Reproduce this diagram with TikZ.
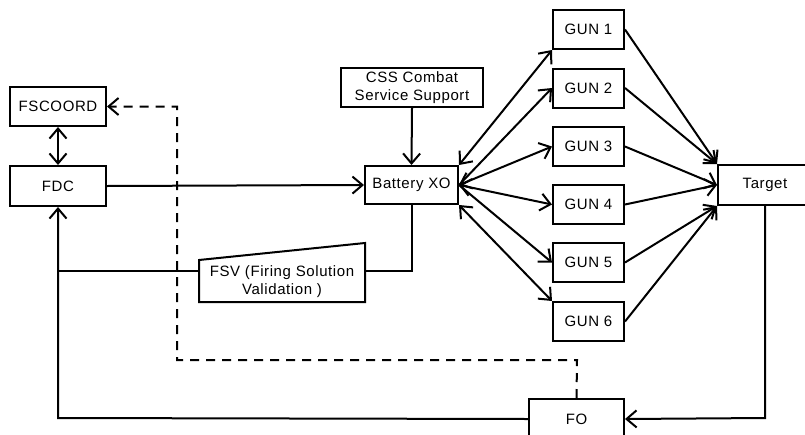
\documentclass[tikz,border=0pt]{standalone}
\usepackage{fontspec}
\setmainfont{Liberation Sans}[LetterSpace=4]
\usetikzlibrary{arrows.meta}
\begin{document}
\begin{tikzpicture}[x=1pt,y=-1pt,
  every node/.style={font=\fontsize{15}{18}\selectfont},
  box/.style={draw,line width=2pt,minimum width=#1,minimum height=39pt,inner sep=0pt,align=center},
  gunbox/.style={box=71pt},
  conn/.style={line width=2pt},
  >={Straight Barb[length=10pt,width=17pt,line width=2pt]},
  dashln/.style={conn,dash pattern=on 9pt off 7pt}]
\useasboundingbox (0,0) rectangle (805,434);
\fill[white] (0,0) rectangle (805,434);
% nodes
\node[box=96pt] (fscoord) at (58,106.5) {FSCOORD};
\node[box=96pt,minimum height=40pt] (fdc) at (58,186) {FDC};
\node[box=142pt] (css) at (412,87.5) {CSS Combat\\Service Support};
\node[box=93pt,minimum height=38pt] (bxo) at (411.5,185) {Battery XO};
\draw[line width=2pt] (199,260) -- (365,243) -- (365,302) -- (199,302) -- cycle;
\node[align=center,inner sep=0pt] (fsv) at (282,282) {FSV (Firing Solution\\Validation )};
\coordinate (fsvL) at (199,271);
\coordinate (fsvR) at (365,271);
\node[gunbox] (g1) at (588.5,29.5) {GUN 1};
\node[gunbox] (g2) at (588.5,88) {GUN 2};
\node[gunbox] (g3) at (588.5,146.5) {GUN 3};
\node[gunbox] (g4) at (588.5,204.5) {GUN 4};
\node[gunbox] (g5) at (588.5,262.5) {GUN 5};
\node[gunbox] (g6) at (588.5,321.5) {GUN 6};
\node[box=94pt,minimum height=40pt] (target) at (765,185) {Target};
\node[box=95pt,minimum height=40pt] (fo) at (576.5,419) {FO};
% connectors
\draw[conn,<->] (fscoord) -- (fdc);
\draw[conn,->] (fdc.east) -- (bxo.west);
\draw[conn,->] (css.south) -- (bxo.north);
\draw[conn] (bxo.south) -- (411.5,271) -- (fsvR);
\draw[conn] (fsvL) -- (58,271);
\draw[conn,->] (fo.west) -- (58,418) -- (fdc.south);
\draw[conn,->] (target.south) -- (765,418) -- (fo.east);
\draw[dashln,->] (fo.north) -- (577,360) -- (177,360) -- (177,106.5) -- (fscoord.east);
\draw[conn,<->] (bxo.north east) -- (g1.south west);
\draw[conn,->] (bxo.east) -- (g2.west);
\draw[conn,<->] (bxo.east) -- (g3.west);
\draw[conn,<->] (bxo.east) -- (g4.west);
\draw[conn,->] (bxo.east) -- (g5.west);
\draw[conn,<->] (bxo.south east) -- (g6.north west);
\draw[conn,->] (g1.east) -- (target.north west);
\draw[conn,->] (g2.east) -- (target.north west);
\draw[conn,->] (g3.east) -- (target.west);
\draw[conn,->] (g4.east) -- (target.west);
\draw[conn,->] (g5.east) -- (target.south west);
\draw[conn,->] (g6.east) -- (target.south west);
\end{tikzpicture}
\end{document}
